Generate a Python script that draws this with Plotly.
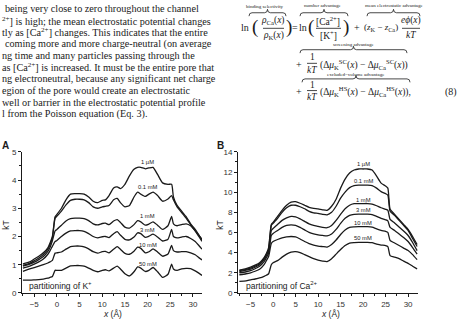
import plotly.graph_objects as go

W, H = 457, 330


def px(x):
    return x / W


def py(y):
    return 1 - y / H


# ---------------- data ----------------
x_a = [-7.5, -6, -5, -4, -3, -2, -1.5, -1, -0.4, 0, 1, 2, 3, 4, 5, 6, 7, 8, 9, 10,
       10.7, 11.5, 12.5, 13.3, 14, 15, 16, 17, 17.8, 18.5, 19.5, 20.3, 21.2, 22.2,
       23.3, 24.5, 25.3, 25.7, 26.5, 27.5, 28.5, 29.5, 30.5, 31.3, 32]

k_1uM = [1.03, 1.1, 1.2, 1.3, 1.42, 1.6, 1.78, 2.0, 2.7, 2.78, 3.0, 3.3, 3.5, 3.52, 3.52,
         3.5, 3.4, 3.25, 3.2, 3.28, 3.3, 3.45, 3.72, 3.76, 3.7, 3.85, 4.15, 4.38, 4.45,
         4.45, 4.4, 4.43, 4.45, 4.2, 3.9, 3.85, 3.85, 3.4, 3.1, 2.9, 2.7, 2.45, 2.25,
         2.05, 1.88]
k_01mM = [0.98, 1.05, 1.14, 1.24, 1.36, 1.55, 1.72, 1.95, 2.65, 2.72, 2.9, 3.12, 3.28,
          3.32, 3.32, 3.3, 3.2, 3.05, 3.0, 3.05, 3.07, 3.1, 3.3, 3.35, 3.2, 3.05, 3.1,
          3.4, 3.57, 3.5, 3.42, 3.5, 3.57, 3.45, 3.25, 3.33, 3.45, 3.3, 3.05, 2.85, 2.65,
          2.42, 2.2, 2.0, 1.83]
k_1mM = [0.95, 1.02, 1.09, 1.18, 1.29, 1.47, 1.62, 1.85, 2.2, 2.25, 2.4, 2.55, 2.63,
         2.65, 2.65, 2.63, 2.56, 2.45, 2.41, 2.46, 2.47, 2.42, 2.55, 2.6, 2.5, 2.33, 2.3,
         2.42, 2.56, 2.52, 2.4, 2.44, 2.52, 2.4, 2.25, 2.38, 2.71, 2.45, 2.38, 2.42, 2.45,
         2.38, 2.2, 2.05, 1.9]
k_3mM = [0.88, 0.95, 1.02, 1.1, 1.2, 1.37, 1.5, 1.65, 1.82, 1.86, 2.0, 2.12, 2.2, 2.21,
         2.21, 2.18, 2.1, 2.0, 1.95, 1.99, 2.0, 1.96, 2.1, 2.17, 2.05, 1.9, 1.88, 1.98,
         2.13, 2.1, 1.97, 2.01, 2.08, 1.98, 1.84, 1.9, 2.25, 2.0, 1.95, 1.98, 2.0, 1.93,
         1.82, 1.68, 1.55]
k_10mM = [0.76, 0.85, 0.9, 0.95, 1.0, 1.06, 1.1, 1.15, 1.41, 1.42, 1.45, 1.55, 1.64,
          1.66, 1.66, 1.63, 1.56, 1.46, 1.41, 1.46, 1.47, 1.42, 1.55, 1.64, 1.55, 1.4,
          1.37, 1.48, 1.62, 1.58, 1.42, 1.46, 1.56, 1.45, 1.3, 1.38, 1.68, 1.5, 1.45,
          1.46, 1.46, 1.42, 1.35, 1.25, 1.17]
k_50mM = [0.45, 0.45, 0.46, 0.47, 0.49, 0.52, 0.55, 0.58, 0.8, 0.8, 0.8, 0.88, 0.96,
          0.97, 0.97, 0.95, 0.88, 0.8, 0.75, 0.8, 0.82, 0.78, 0.88, 0.95, 0.85, 0.68,
          0.6, 0.75, 0.92, 0.88, 0.76, 0.8, 0.9, 0.75, 0.55, 0.66, 1.02, 0.85, 0.8, 0.85,
          0.87, 0.86, 0.78, 0.7, 0.62]

x_b = [-7.5, -6, -5, -4, -3, -2, -1.5, -1, -0.4, 0, 1, 2, 3, 4, 5, 6, 7, 8, 9, 10, 11,
       12, 13, 14, 15, 16, 17, 18, 19, 20, 21, 22, 23, 24, 25, 25.5, 26, 27, 28, 29,
       30, 31, 32]

ca_1uM = [2.25, 2.4, 2.55, 2.75, 3.0, 3.5, 3.9, 4.5, 6.8, 7.0, 7.6, 8.2, 8.7, 9.0,
          9.05, 8.9, 8.7, 8.5, 8.4, 8.35, 8.25, 8.2, 8.6, 9.3, 10.4, 11.3, 11.9, 12.2,
          12.3, 12.3, 12.3, 12.2, 11.6, 10.9, 10.6, 10.4, 8.3, 7.8, 7.3, 6.8, 6.3, 5.6,
          4.8]
ca_01mM = [2.2, 2.33, 2.45, 2.65, 2.9, 3.4, 3.8, 4.3, 6.7, 6.9, 7.4, 8.0, 8.45, 8.7,
           8.7, 8.55, 8.35, 8.1, 7.95, 7.9, 7.8, 7.75, 8.0, 8.6, 9.4, 10.0, 10.45,
           10.65, 10.7, 10.7, 10.7, 10.65, 10.4, 10.05, 9.85, 9.7, 8.1, 7.7, 7.2, 6.7,
           6.2, 5.4, 4.6]
ca_1mM = [2.12, 2.25, 2.35, 2.55, 2.8, 3.3, 3.7, 4.1, 6.2, 6.4, 6.8, 7.2, 7.45, 7.6,
          7.55, 7.35, 7.1, 6.85, 6.7, 6.6, 6.5, 6.47, 6.7, 7.2, 7.8, 8.35, 8.7, 8.85,
          8.87, 8.87, 8.87, 8.82, 8.65, 8.45, 8.3, 8.2, 7.3, 6.95, 6.55, 6.15, 5.7, 5.0,
          4.2]
ca_3mM = [2.0, 2.1, 2.2, 2.4, 2.65, 3.1, 3.5, 3.9, 5.7, 5.9, 6.2, 6.5, 6.7, 6.75, 6.7,
          6.5, 6.25, 6.0, 5.85, 5.75, 5.7, 5.66, 5.85, 6.3, 6.9, 7.4, 7.7, 7.8, 7.82,
          7.82, 7.82, 7.78, 7.6, 7.4, 7.25, 7.15, 6.5, 6.2, 5.85, 5.5, 5.1, 4.5, 3.85]
ca_10mM = [1.8, 1.9, 2.0, 2.15, 2.35, 2.8, 3.2, 3.6, 4.9, 5.1, 5.3, 5.45, 5.55, 5.6,
           5.55, 5.35, 5.1, 4.9, 4.75, 4.65, 4.6, 4.55, 4.8, 5.25, 5.8, 6.25, 6.5, 6.55,
           6.57, 6.57, 6.57, 6.52, 6.35, 6.2, 6.1, 6.0, 5.2, 4.95, 4.7, 4.45, 4.2, 3.8,
           3.3]
ca_50mM = [1.15, 1.2, 1.3, 1.38, 1.48, 1.64, 1.75, 1.9, 2.8, 3.0, 3.2, 3.55, 3.85, 4.05,
           4.1, 4.0, 3.8, 3.6, 3.4, 3.25, 3.15, 3.1, 3.4, 3.85, 4.3, 4.7, 4.95, 5.0,
           5.02, 5.02, 5.02, 4.98, 4.85, 4.75, 4.7, 4.6, 3.7, 3.55, 3.4, 3.15, 2.93,
           2.65, 2.38]

conc_labels = ["1 µM", "0.1 mM", "1 mM", "3 mM", "10 mM", "50 mM"]
label_x = 20.0
label_y_a = [4.64, 3.76, 2.72, 2.22, 1.7, 1.01]
label_y_b = [12.84, 11.1, 9.2, 8.24, 6.95, 5.43]

x_ticks = [-5, 0, 5, 10, 15, 20, 25, 30]
y_ticks_a = [0, 1, 2, 3, 4, 5]
y_ticks_b = [0, 2, 4, 6, 8, 10, 12, 14]

k_series = [k_1uM, k_01mM, k_1mM, k_3mM, k_10mM, k_50mM]
ca_series = [ca_1uM, ca_01mM, ca_1mM, ca_3mM, ca_10mM, ca_50mM]

# ---------------- figure ----------------
INK = "#1a1a1a"
fig = go.Figure()
for ys in k_series:
    fig.add_trace(go.Scatter(x=x_a, y=ys, mode="lines", xaxis="x", yaxis="y",
                             line=dict(color=INK, width=1.3, shape="spline", smoothing=0.5),
                             hoverinfo="skip", showlegend=False))
for ys in ca_series:
    fig.add_trace(go.Scatter(x=x_b, y=ys, mode="lines", xaxis="x2", yaxis="y2",
                             line=dict(color=INK, width=1.3, shape="spline", smoothing=0.5),
                             hoverinfo="skip", showlegend=False))

tickfont = dict(family="Liberation Sans", size=8, color="#333")


def xaxis_style(domain, rng, anchor):
    return dict(domain=domain, range=rng, anchor=anchor, tickvals=x_ticks,
                ticks="outside", ticklen=3, tickwidth=1, tickcolor=INK,
                showline=True, linecolor=INK, linewidth=1, showgrid=False,
                zeroline=False, tickfont=tickfont,
                minor=dict(tick0=0, dtick=2.5, ticks="outside", ticklen=2,
                           tickcolor=INK, showgrid=False))


def yaxis_style(domain, rng, anchor, tv, mdt):
    return dict(domain=domain, range=rng, anchor=anchor, tickvals=tv,
                ticks="outside", ticklen=3, tickwidth=1, tickcolor=INK,
                showline=True, linecolor=INK, linewidth=1, showgrid=False,
                zeroline=False, tickfont=tickfont,
                minor=dict(tick0=0, dtick=mdt, ticks="outside", ticklen=2,
                           tickcolor=INK, showgrid=False))


fig.update_layout(
    width=W, height=H, margin=dict(l=0, r=0, t=0, b=0),
    paper_bgcolor="white", plot_bgcolor="white", showlegend=False,
    xaxis=xaxis_style([px(22), px(202)], [-7.7, 32], "y"),
    yaxis=yaxis_style([py(297), py(152)], [0, 5], "x", y_ticks_a, 0.5),
    xaxis2=xaxis_style([px(238), px(418)], [-7.8, 32.2], "y2"),
    yaxis2=yaxis_style([py(297), py(152)], [0, 14], "x2", y_ticks_b, 1),
)

ann = []


def text(t, x, y, size=10, family="Liberation Serif", xanchor="center", color=INK,
         angle=0, xref="paper", yref="paper"):
    if xref == "paper":
        x = px(x)
    if yref == "paper":
        y = py(y)
    ann.append(dict(text=t, x=x, y=y, xref=xref, yref=yref, showarrow=False,
                    xanchor=xanchor, yanchor="middle", textangle=angle,
                    font=dict(family=family, size=size, color=color)))


# curve labels
for lab, ya in zip(conc_labels, label_y_a):
    text(lab, label_x, ya, size=5.8, family="Liberation Sans", xref="x", yref="y")
for lab, yb in zip(conc_labels, label_y_b):
    text(lab, label_x, yb, size=5.8, family="Liberation Sans", xref="x2", yref="y2")

# panel texts
text("<b>A</b>", 5, 145, size=10, family="Liberation Sans")
text("<b>B</b>", 220, 145, size=10, family="Liberation Sans")
text("kT", 6, 228, size=8.5, family="Liberation Sans", angle=-90)
text("kT", 220, 228, size=8.5, family="Liberation Sans", angle=-90)
text("<i>x</i> (Å)", 112, 319, size=8.5, family="Liberation Sans")
text("<i>x</i> (Å)", 330, 319, size=8.5, family="Liberation Sans")
text("partitioning of K<sup>+</sup>", 27, 289, size=8.5, family="Liberation Sans",
     xanchor="left")
text("partitioning of Ca<sup>2+</sup>", 244, 289, size=8.5, family="Liberation Sans",
     xanchor="left")

# left text column (cropped page)
para = [
    ("being very close to zero throughout the channel", 3, 5),
    ("<sup>2+</sup>] is high; the mean electrostatic potential changes", 0, 17),
    ("tly as [Ca<sup>2+</sup>] changes. This indicates that the entire", 0, 29),
    ("coming more and more charge-neutral (on average", 3, 41),
    ("ng time and many particles passing through the", 0, 53),
    ("as [Ca<sup>2+</sup>] is increased. It must be the entire pore that", 0, 65),
    ("ng electroneutral, because any significant net charge", 0, 77),
    ("egion of the pore would create an electrostatic", 0, 89),
    ("well or barrier in the electrostatic potential profile", 0, 101),
    ("l from the Poisson equation (Eq. 3).", 0, 113),
]
for t, x0, y0 in para:
    text(t, x0, y0, size=10.2, xanchor="left")

# equation (8)
shapes = []


def bar(x1, x2, y):
    shapes.append(dict(type="line", xref="paper", yref="paper", x0=px(x1), x1=px(x2),
                       y0=py(y), y1=py(y), line=dict(color=INK, width=0.8)))


def brace(x1, x2, y, h=3.5):
    xm = (x1 + x2) / 2
    p = (f"M {px(x1)},{py(y + h)} Q {px(x1)},{py(y)} {px(x1 + 3)},{py(y)} "
         f"L {px(xm - 3)},{py(y)} Q {px(xm)},{py(y)} {px(xm)},{py(y - h)} "
         f"Q {px(xm)},{py(y)} {px(xm + 3)},{py(y)} L {px(x2 - 3)},{py(y)} "
         f"Q {px(x2)},{py(y)} {px(x2)},{py(y + h)}")
    shapes.append(dict(type="path", xref="paper", yref="paper", path=p,
                       line=dict(color=INK, width=0.8)))


# line 1
text("ln", 245, 24)
text("(", 255, 24, size=19)
text("<i>ρ</i><sub>Ca</sub>(<i>x</i>)", 273, 17, size=9.5)
bar(263, 284, 25)
text("<i>ρ</i><sub>K</sub>(<i>x</i>)", 273, 32, size=9.5)
text(")", 289, 24, size=19)
text("=", 295, 24)
text("ln", 303, 24)
text("(", 311, 24, size=19)
text("[Ca<sup>2+</sup>]", 328, 17, size=9.5)
bar(316, 341, 25)
text("[K<sup>+</sup>]", 328, 32, size=9.5)
text(")", 346, 24, size=19)
text("+", 357, 24)
text("(<i>z</i><sub>K</sub> − <i>z</i><sub>Ca</sub>)", 381, 24, size=9)
text("<i>eϕ</i>(<i>x</i>)", 411, 17, size=9.5)
bar(402, 420, 25)
text("<i>kT</i>", 411, 32, size=9.5)
text("binding selectivity", 265, 3, size=5)
text("number advantage", 323, 2, size=5)
text("mean electrostatic advantage", 394, 2, size=5)
brace(249, 286, 9)
brace(300, 348, 9)
brace(367, 420, 9)

# line 2
text("+", 299, 62)
text("1", 312, 55, size=9.5)
bar(307, 317, 61)
text("<i>kT</i>", 312, 68, size=9.5)
text("(Δ<i>μ</i><sub>K</sub><sup>SC</sup>(<i>x</i>) − Δ<i>μ</i><sub>Ca</sub><sup>SC</sup>(<i>x</i>))",
     318, 62, size=9.5, xanchor="left")
text("screening advantage", 353, 42, size=5)
brace(300, 407, 47)

# line 3
text("+", 299, 90)
text("1", 312, 83, size=9.5)
bar(307, 317, 89)
text("<i>kT</i>", 312, 96, size=9.5)
text("(Δ<i>μ</i><sub>K</sub><sup>HS</sup>(<i>x</i>) − Δ<i>μ</i><sub>Ca</sub><sup>HS</sup>(<i>x</i>)),",
     318, 90, size=9.5, xanchor="left")
text("excluded−volume advantage", 356, 72, size=5)
brace(302, 410, 77)
text("(8)", 443, 90, size=10, xanchor="left")

fig.update_layout(annotations=ann, shapes=shapes)
fig.write_html("out.html")
